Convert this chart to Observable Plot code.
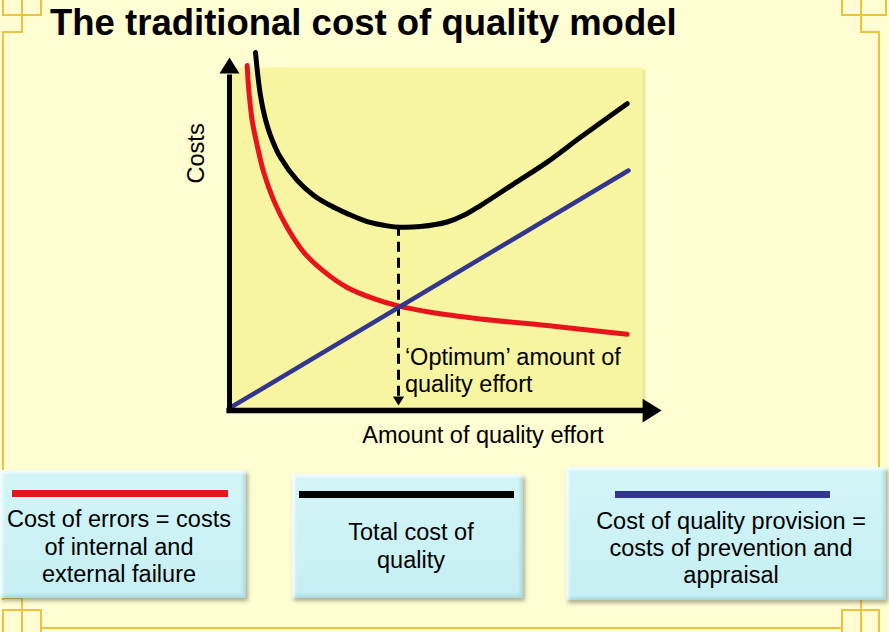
<!DOCTYPE html>
<html>
<head>
<meta charset="utf-8">
<script src="https://cdn.jsdelivr.net/npm/d3@7"></script>
<script src="https://cdn.jsdelivr.net/npm/@observablehq/plot@0.6"></script>
<style>
  html, body { margin: 0; padding: 0; }
  body {
    width: 889px; height: 632px; position: relative; overflow: hidden;
    background: #fffdd2;
    font-family: "Liberation Sans", Arial, Helvetica, sans-serif;
  }
  #deco { position: absolute; left: 0; top: 0; }
  #title {
    position: absolute; left: 50px; top: 3px;
    font-size: 36.5px; line-height: 40px; font-weight: bold; color: #000;
    white-space: nowrap;
  }
  #chart { position: absolute; left: 180px; top: 30px; }
  .box {
    position: absolute; box-sizing: border-box;
    background: linear-gradient(180deg, #d3f5f8 0%, #c6eff3 100%);
    box-shadow: 2px 3px 4px rgba(80, 80, 60, 0.45),
                inset 3px 3px 3px rgba(255, 255, 255, 0.75),
                inset -3px -3px 3px rgba(60, 120, 130, 0.18);
  }
  .bar { position: absolute; height: 7px; }
  .txt {
    position: absolute; left: 0; right: 0; text-align: center;
    font-size: 23.5px; color: #000; white-space: nowrap;
  }
</style>
</head>
<body>
<svg id="deco" width="889" height="632">
  <g fill="none" stroke="#efc23c" stroke-width="2">
    <path d="M3,0V15H41V0 M22,0V32H3V600"/>
    <path d="M886,0V15H842V0 M861,0V32H879V600"/>
    <path d="M3,632V610H41V632 M22,590V632 M3,598H22"/>
    <path d="M842,632V610H879V632 M861,590V632 M861,598H879"/>
    <path d="M41,628H842"/>
  </g>
</svg>
<div id="title"></div>
<div id="chart"></div>
<script>
// ---- text ----
const titleText = "The traditional cost of quality model";
const xLabel = "Amount of quality effort";
const yLabel = "Costs";
const optimumLabel = ["\u2018Optimum\u2019 amount of", "quality effort"];

// ---- series (x = quality effort, y = cost) ----
const errorsX = [4.17, 4.58, 5.42, 6.67, 8.33, 10.83, 14.17, 18.33, 23.33, 29.17, 35.83, 41.67, 50, 62.5, 79.17, 99.17];
const errorsY = [97.7, 90.6, 82.0, 74.9, 67.1, 59.1, 51.4, 44.3, 38.9, 34.3, 31.1, 29.1, 27.2, 25.3, 23.4, 20.9];

const totalX = [6.25, 6.75, 7.5, 8.5, 10, 12.5, 16.67, 20.83, 25, 29.17, 34.17, 39.17, 42.5, 47.5, 54.17, 58.33, 62.5, 70.83, 79.17, 87.5, 99.17];
const totalY = [101.4, 95.7, 89.1, 83.4, 77.7, 71.4, 64.9, 60.6, 57.7, 55.4, 53.1, 51.9, 51.5, 51.7, 53.0, 54.9, 57.7, 63.9, 70.1, 77.2, 86.8];

const provisionX = [0, 99.5];
const provisionY = [0, 67.7];

const optimumX = [42];
const optimumCost = [51.5];

// ---- legend ----
const legendLabels = [
  ["Cost of errors = costs", "of internal and", "external failure"],
  ["Total cost of", "quality"],
  ["Cost of quality provision =", "costs of prevention and", "appraisal"]
];

// ---- styles ----
const RED = "#e8141b", BLACK = "#000000", BLUE = "#33368f";
const legendColors = [RED, BLACK, BLUE];
const FONT = '"Liberation Sans", Arial, Helvetica, sans-serif';
const FS = 23.5;

document.getElementById("title").textContent = titleText;

const toRows = (xs, ys) => xs.map((x, i) => ({x, y: ys[i]}));

// custom filled arrowhead symbols
const arrowUp = {draw(ctx, size) { const r = Math.sqrt(size / Math.PI); ctx.moveTo(0, -r); ctx.lineTo(1.25 * r, r); ctx.lineTo(-1.25 * r, r); ctx.closePath(); }};
const arrowDown = {draw(ctx, size) { const r = Math.sqrt(size / Math.PI); ctx.moveTo(0, r); ctx.lineTo(1.25 * r, -r); ctx.lineTo(-1.25 * r, -r); ctx.closePath(); }};
const arrowRight = {draw(ctx, size) { const r = Math.sqrt(size / Math.PI); ctx.moveTo(r, 0); ctx.lineTo(-r, 1.25 * r); ctx.lineTo(-r, -1.25 * r); ctx.closePath(); }};

const X_MAX = 103, Y_MAX = 97.14;
const axisY0 = -0.86, axisX0 = -0.25;

const chart = Plot.plot({
  width: 500, height: 440,
  marginLeft: 50, marginRight: 38, marginTop: 37, marginBottom: 63,
  x: {domain: [0, X_MAX], axis: null},
  y: {domain: [0, Y_MAX], axis: null},
  style: {background: "transparent", overflow: "visible", fontFamily: FONT},
  marks: [
    Plot.frame({fill: "#dcd98a", fillOpacity: 0.6, stroke: null, dx: 3, dy: 2}),
    Plot.frame({fill: "#f8f5a2", stroke: null}),
    // optimum dashed drop line
    Plot.ruleX(optimumX, {x: d => d, y1: 3.2, y2: optimumCost[0], stroke: BLACK, strokeWidth: 3, strokeDasharray: "10,6"}),
    Plot.dot(optimumX, {x: d => d, y: 1.86, r: 4.5, symbol: arrowDown, fill: BLACK}),
    // series
    Plot.line(toRows(errorsX, errorsY), {x: "x", y: "y", stroke: RED, strokeWidth: 5, curve: "catmull-rom"}),
    Plot.line(toRows(provisionX, provisionY), {x: "x", y: "y", stroke: BLUE, strokeWidth: 4.5}),
    Plot.line(toRows(totalX, totalY), {x: "x", y: "y", stroke: BLACK, strokeWidth: 5, curve: "catmull-rom"}),
    // axes with arrowheads
    Plot.ruleX([axisX0], {x: d => d, y1: -1.7, y2: 95, stroke: BLACK, strokeWidth: 5}),
    Plot.ruleY([axisY0], {y: d => d, x1: -0.9, x2: 103.5, stroke: BLACK, strokeWidth: 5.5}),
    Plot.dot([axisX0], {x: d => d, y: 97.7, r: 8, symbol: arrowUp, fill: BLACK}),
    Plot.dot([axisY0], {x: 105.4, y: d => d, r: 9.5, symbol: arrowRight, fill: BLACK}),
    // labels
    Plot.text([yLabel], {x: -8.5, y: 72.6, text: d => d, rotate: -90, fontSize: FS, fill: BLACK, fontFamily: FONT}),
    Plot.text([xLabel], {x: 63.1, y: -5.5, text: d => d, lineAnchor: "top", fontSize: FS, fill: BLACK, fontFamily: FONT}),
    Plot.text([optimumLabel.join("\n")], {x: 43.6, y: 17.4, text: d => d, textAnchor: "start", lineAnchor: "top", lineHeight: 1.12, fontSize: FS, fill: BLACK, fontFamily: FONT})
  ]
});
document.getElementById("chart").appendChild(chart);

// legend boxes (layout kept separate from the label/colour arrays)
const boxLayout = [
  {left: 0,   top: 470, width: 246, height: 128, barLeft: 12, barTop: 20, barWidth: 216, textTop: 36.3, lineHeight: 27.5, padL: 0, padR: 8},
  {left: 292, top: 474, width: 231, height: 124, barLeft: 7,  barTop: 17, barWidth: 215, textTop: 44,   lineHeight: 28,   padL: 7, padR: 0},
  {left: 566, top: 467, width: 320, height: 133, barLeft: 49, barTop: 24, barWidth: 215, textTop: 40.9, lineHeight: 27,   padL: 10, padR: 0}
];
boxLayout.forEach((b, i) => {
  const box = document.createElement("div");
  box.className = "box";
  Object.assign(box.style, {left: b.left + "px", top: b.top + "px", width: b.width + "px", height: b.height + "px"});
  const bar = document.createElement("div");
  bar.className = "bar";
  Object.assign(bar.style, {left: b.barLeft + "px", top: b.barTop + "px", width: b.barWidth + "px", background: legendColors[i]});
  box.appendChild(bar);
  const txt = document.createElement("div");
  txt.className = "txt";
  Object.assign(txt.style, {top: b.textTop + "px", lineHeight: b.lineHeight + "px", paddingLeft: b.padL + "px", paddingRight: b.padR + "px"});
  legendLabels[i].forEach((line, j) => {
    if (j) txt.appendChild(document.createElement("br"));
    txt.appendChild(document.createTextNode(line));
  });
  box.appendChild(txt);
  document.body.appendChild(box);
});
</script>
</body>
</html>
